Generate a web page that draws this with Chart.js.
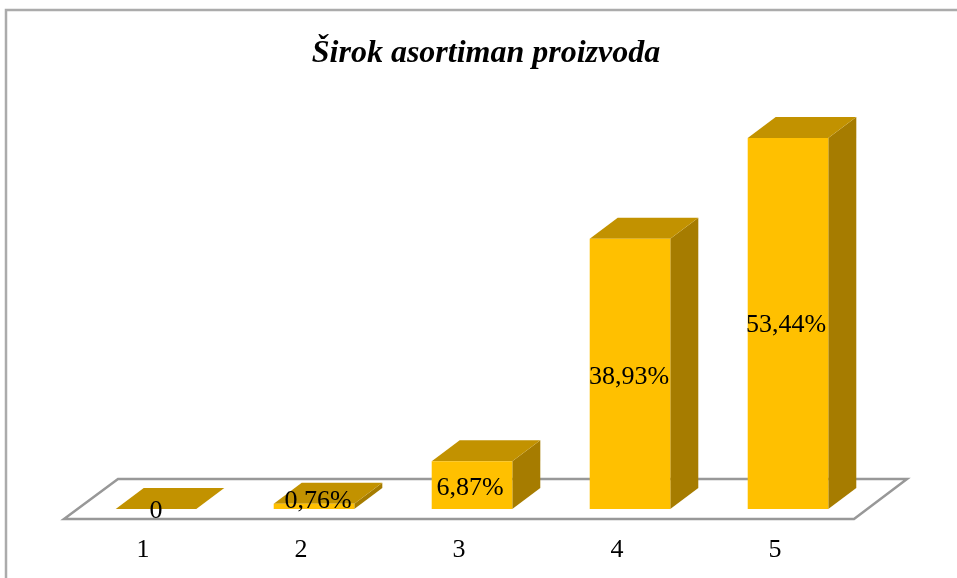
<!DOCTYPE html>
<html><head><meta charset="utf-8">
<style>html,body{margin:0;padding:0;background:#fff}canvas{display:block}</style>
<script src="https://cdn.jsdelivr.net/npm/chart.js@4"></script>
</head><body><canvas id="c" width="957" height="578"></canvas>
<script>
const categories = ['1','2','3','4','5'];
const values = [0, 0.76, 6.87, 38.93, 53.44];
const titleText = 'Širok asortiman proizvoda';

const FRONT='#FFC000', TOP='#C29200', SIDE='#A67C00';
const DX=28, DY=21;
const SERIF='"Liberation Serif","Times New Roman",serif';
const labelShift=[[0,2],[4,-5],[-2,3],[-1,3],[-2,2]];

function poly(ctx,pts,fill){ctx.beginPath();pts.forEach((p,i)=>i?ctx.lineTo(p[0],p[1]):ctx.moveTo(p[0],p[1]));ctx.closePath();ctx.fillStyle=fill;ctx.fill();}

const threeD={
  id:'threeD',
  afterLayout(chart){ if(chart.titleBlock){chart.titleBlock.left+=14;chart.titleBlock.right+=14;} },
  beforeDatasetsDraw(chart){
    const {ctx,chartArea:a,width,height}=chart;
    ctx.save();
    ctx.strokeStyle='#ABABAB';ctx.lineWidth=2.5;
    ctx.beginPath();ctx.moveTo(6,height);ctx.lineTo(6,10);ctx.lineTo(width,10);ctx.stroke();
    ctx.strokeStyle='#989898';ctx.lineWidth=2.5;ctx.lineJoin='miter';
    ctx.beginPath();
    ctx.moveTo(a.left-13,a.bottom+10);
    ctx.lineTo(a.right-13,a.bottom+10);
    ctx.lineTo(a.right+40,a.bottom-30);
    ctx.lineTo(a.left+41,a.bottom-30);
    ctx.closePath();ctx.stroke();
    chart.getDatasetMeta(0).data.forEach(b=>{
      const l=b.x-b.width/2,r=b.x+b.width/2,t=b.y,bm=b.base;
      poly(ctx,[[r,t],[r+DX,t-DY],[r+DX,bm-DY],[r,bm]],SIDE);
      poly(ctx,[[l,t],[l+DX,t-DY],[r+DX,t-DY],[r,t]],TOP);
    });
    ctx.restore();
  },
  afterDatasetsDraw(chart){
    const {ctx}=chart;
    ctx.save();
    ctx.fillStyle='#000';ctx.font='26px '+SERIF;ctx.textAlign='center';ctx.textBaseline='middle';
    chart.getDatasetMeta(0).data.forEach((b,i)=>{
      const v=values[i];
      const s=v===0?'0':v.toFixed(2).replace('.',',')+'%';
      ctx.fillText(s,b.x+labelShift[i][0],(b.y+b.base)/2+labelShift[i][1]);
    });
    ctx.restore();
  }
};

new Chart(document.getElementById('c'),{
  type:'bar',
  data:{labels:categories,datasets:[{data:values,backgroundColor:FRONT,borderWidth:0,categoryPercentage:1,barPercentage:0.51}]},
  options:{
    responsive:false,animation:false,
    layout:{padding:{left:77,right:90,top:0,bottom:0}},
    plugins:{
      legend:{display:false},tooltip:{enabled:false},
      title:{display:true,text:titleText,color:'#000',font:{family:SERIF,size:32,style:'italic',weight:'bold'},padding:{top:35,bottom:19}}
    },
    scales:{
      x:{grid:{display:false},border:{display:false},afterFit(s){s.height=69;},ticks:{color:'#000',font:{family:SERIF,size:26},labelOffset:-13,padding:18,maxRotation:0}},
      y:{display:false,min:0,max:60}
    }
  },
  plugins:[threeD]
});
</script></body></html>
